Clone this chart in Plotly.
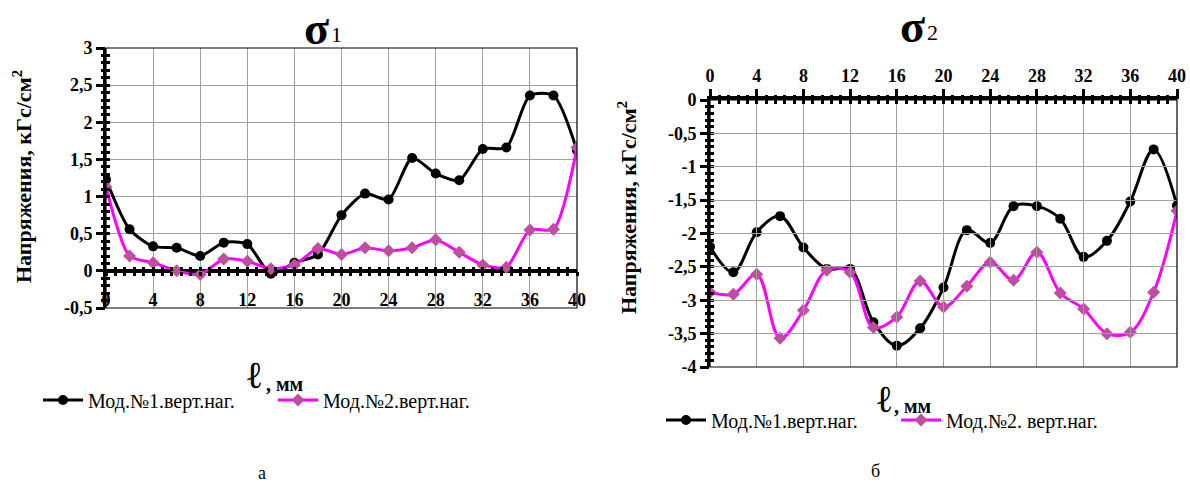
import plotly.graph_objects as go

# ---------------- data ----------------
x_mm = [0, 2, 4, 6, 8, 10, 12, 14, 16, 18, 20, 22, 24, 26, 28, 30, 32, 34, 36, 38, 40]

# sigma 1 (left chart)
s1_mod1 = [1.23, 0.56, 0.33, 0.31, 0.20, 0.38, 0.36, -0.04, 0.11, 0.22, 0.75, 1.04, 0.96,
           1.52, 1.31, 1.22, 1.64, 1.66, 2.36, 2.36, 1.62]
s1_mod2 = [1.13, 0.20, 0.11, 0.00, -0.05, 0.16, 0.13, 0.03, 0.08, 0.30, 0.22, 0.31, 0.27,
           0.31, 0.42, 0.25, 0.08, 0.05, 0.55, 0.56, 1.66]

# sigma 2 (right chart)
s2_mod1 = [-2.20, -2.58, -1.98, -1.74, -2.21, -2.53, -2.53, -3.33, -3.68, -3.42, -2.81,
           -1.95, -2.14, -1.59, -1.59, -1.78, -2.35, -2.11, -1.52, -0.74, -1.58]
s2_mod2 = [-2.88, -2.91, -2.61, -3.57, -3.15, -2.55, -2.58, -3.41, -3.25, -2.71, -3.10,
           -2.79, -2.43, -2.70, -2.28, -2.89, -3.13, -3.50, -3.48, -2.88, -1.66]

x_ticks = [0, 4, 8, 12, 16, 20, 24, 28, 32, 36, 40]
x_ticklabels = ["0", "4", "8", "12", "16", "20", "24", "28", "32", "36", "40"]
y1_ticks = [-0.5, 0, 0.5, 1, 1.5, 2, 2.5, 3]
y1_ticklabels = ["-0,5", "0", "0,5", "1", "1,5", "2", "2,5", "3"]
y2_ticks = [0, -0.5, -1, -1.5, -2, -2.5, -3, -3.5, -4]
y2_ticklabels = ["0", "-0,5", "-1", "-1,5", "-2", "-2,5", "-3", "-3,5", "-4"]

names_left = ["Мод.№1.верт.наг.", "Мод.№2.верт.наг."]
names_right = ["Мод.№1.верт.наг.", "Мод.№2. верт.наг."]

sigma = "<b>σ</b>"
sigma_sub = ["1", "2"]
y_title = "<b>Напряжения, кГс/см<sup>2</sup></b>"
x_title_l = "ℓ"
x_title_unit = "<b>, мм</b>"
captions = ["а", "б"]

# ---------------- layout helpers ----------------
W, H = 1190, 485
SERIF = "Liberation Serif"
BLACK = "#000000"
MAGENTA = "#FF00FF"
DIAMOND = "#BE4FA0"
GRID = "#A0A0A0"


def px(x):
    return x / W


def py(y):
    return 1 - y / H


L_X = [px(106), px(577)]
L_Y = [py(308), py(48)]
R_X = [px(710), px(1177)]
R_Y = [py(367), py(100)]
X_RANGE = [0, 40]
L_RANGE_Y = [-0.5, 3]
R_RANGE_Y = [-4, 0]
# paper position of y = 0 in the left chart (x axis crosses there)
l_zero = L_Y[0] + (0 - L_RANGE_Y[0]) / (L_RANGE_Y[1] - L_RANGE_Y[0]) * (L_Y[1] - L_Y[0])

tickfont = dict(family=SERIF, size=18, color=BLACK, weight="bold")


def aux(domain, rng, anchor, dtick, ticks, side=None):
    d = dict(domain=domain, range=rng, anchor=anchor, tickmode="linear", tick0=0,
             dtick=dtick, ticks=ticks, ticklen=4, tickwidth=3, tickcolor=BLACK,
             showticklabels=False, showline=False, showgrid=False, zeroline=False)
    if side:
        d["side"] = side
    return d


fig = go.Figure()

# left chart traces
fig.add_trace(go.Scatter(x=x_mm, y=s1_mod1, name=names_left[0], mode="lines+markers",
                         line=dict(color=BLACK, width=3, shape="spline", smoothing=0.7),
                         marker=dict(symbol="circle", size=10, color=BLACK),
                         xaxis="x", yaxis="y", legend="legend"))
fig.add_trace(go.Scatter(x=x_mm, y=s1_mod2, name=names_left[1], mode="lines+markers",
                         line=dict(color=MAGENTA, width=3, shape="spline", smoothing=0.7),
                         marker=dict(symbol="diamond", size=10, color=DIAMOND),
                         xaxis="x", yaxis="y", legend="legend"))
# right chart traces
fig.add_trace(go.Scatter(x=x_mm, y=s2_mod1, name=names_right[0], mode="lines+markers",
                         line=dict(color=BLACK, width=3, shape="spline", smoothing=1.0),
                         marker=dict(symbol="circle", size=10, color=BLACK),
                         xaxis="x2", yaxis="y2", legend="legend2"))
fig.add_trace(go.Scatter(x=x_mm, y=s2_mod2, name=names_right[1], mode="lines+markers",
                         line=dict(color=MAGENTA, width=3, shape="spline", smoothing=1.0),
                         marker=dict(symbol="diamond", size=10, color=DIAMOND),
                         xaxis="x2", yaxis="y2", legend="legend2"))

# empty traces that only register the auxiliary tick-mark / label axes
for xa, ya in (("x3", "y3"), ("x5", "y3"), ("x7", "y3"), ("x3", "y5"), ("x3", "y6"),
               ("x4", "y2"), ("x6", "y2"), ("x2", "y4"), ("x2", "y7")):
    fig.add_trace(go.Scatter(x=[None], y=[None], xaxis=xa, yaxis=ya, showlegend=False,
                             hoverinfo="skip", mode="markers"))

fig.update_layout(
    width=W, height=H, margin=dict(l=0, r=0, t=0, b=0, autoexpand=False),
    paper_bgcolor="white", plot_bgcolor="rgba(0,0,0,0)",
    # ----- left chart -----
    xaxis=dict(domain=L_X, range=X_RANGE, anchor="y", tickmode="array", tickvals=x_ticks,
               showticklabels=False, ticks="", showline=False, showgrid=True,
               gridcolor=GRID, gridwidth=1, zeroline=False),
    yaxis=dict(domain=L_Y, range=L_RANGE_Y, anchor="x", tickmode="array", tickvals=y1_ticks,
               ticktext=y1_ticklabels, tickfont=tickfont, ticks="outside", ticklen=7,
               tickwidth=3, tickcolor=BLACK, showline=True, linewidth=3, linecolor=BLACK,
               showgrid=True, gridcolor=GRID, gridwidth=1,
               zeroline=True, zerolinecolor=BLACK, zerolinewidth=4),
    yaxis3=dict(domain=[l_zero, L_Y[1]], range=[0, L_RANGE_Y[1]], anchor="x3", visible=False),
    xaxis3=aux(L_X, X_RANGE, "y3", 0.8, "outside"),
    xaxis5=aux(L_X, X_RANGE, "y3", 0.8, "inside"),
    xaxis7=dict(domain=L_X, range=X_RANGE, anchor="y3", tickmode="array", tickvals=x_ticks,
                ticktext=x_ticklabels, tickfont=tickfont, ticks="outside", ticklen=13,
                tickcolor="rgba(0,0,0,0)", showline=False, showgrid=False, zeroline=False),
    yaxis5=aux(L_Y, L_RANGE_Y, "x3", 0.1, "outside"),
    yaxis6=aux(L_Y, L_RANGE_Y, "x3", 0.1, "inside"),
    # ----- right chart -----
    xaxis2=dict(domain=R_X, range=X_RANGE, anchor="y2", side="top", tickmode="array",
                tickvals=x_ticks, ticktext=x_ticklabels, tickfont=tickfont, ticks="outside",
                ticklen=7, tickwidth=3, tickcolor=BLACK, showline=True, linewidth=4,
                linecolor=BLACK, showgrid=True, gridcolor=GRID, gridwidth=1, zeroline=False),
    yaxis2=dict(domain=R_Y, range=R_RANGE_Y, anchor="x2", tickmode="array", tickvals=y2_ticks,
                ticktext=y2_ticklabels, tickfont=tickfont, ticks="outside", ticklen=7,
                tickwidth=3, tickcolor=BLACK, showline=True, linewidth=3, linecolor=BLACK,
                showgrid=True, gridcolor=GRID, gridwidth=1, zeroline=False),
    xaxis4=aux(R_X, X_RANGE, "y2", 0.8, "outside", side="top"),
    xaxis6=aux(R_X, X_RANGE, "y2", 0.8, "inside", side="top"),
    yaxis4=aux(R_Y, R_RANGE_Y, "x2", 0.1, "outside"),
    yaxis7=aux(R_Y, R_RANGE_Y, "x2", 0.1, "inside"),
    # ----- legends -----
    legend=dict(orientation="h", x=px(38), y=py(400), xanchor="left", yanchor="middle",
                font=dict(family=SERIF, size=20, color=BLACK), bgcolor="rgba(0,0,0,0)",
                itemwidth=40, entrywidth=180, tracegroupgap=0),
    legend2=dict(orientation="h", x=px(661), y=py(420), xanchor="left", yanchor="middle",
                 font=dict(family=SERIF, size=20, color=BLACK), bgcolor="rgba(0,0,0,0)",
                 itemwidth=40, entrywidth=180, tracegroupgap=0),
)

# thin plot frames
shapes = []
for xd, yd in ((L_X, L_Y), (R_X, R_Y)):
    shapes.append(dict(type="rect", xref="paper", yref="paper", x0=xd[0], x1=xd[1],
                       y0=yd[0], y1=yd[1], line=dict(color=BLACK, width=1.2), layer="above"))
fig.update_layout(shapes=shapes)


def note(text, x, y, size, **kw):
    d = dict(text=text, x=px(x), y=py(y), xref="paper", yref="paper", showarrow=False,
             xanchor="center", yanchor="middle", font=dict(family=SERIF, size=size, color=BLACK))
    d.update(kw)
    return d


ann = [
    note(sigma, 316, 28, 46),
    note(sigma_sub[0], 336, 35, 22),
    note(sigma, 912, 26, 46),
    note(sigma_sub[1], 932, 33, 22),
    note(y_title, 22, 176, 22, textangle=-90),
    note(y_title, 627, 207, 22, textangle=-90),
    note(x_title_l, 254, 375, 38),
    note(x_title_unit, 284, 384, 20),
    note(x_title_l, 884, 399, 38),
    note(x_title_unit, 912, 406, 20),
    note(captions[0], 262, 473, 18),
    note(captions[1], 875, 471, 18),
]
fig.update_layout(annotations=ann)

fig.write_html("out.html")
